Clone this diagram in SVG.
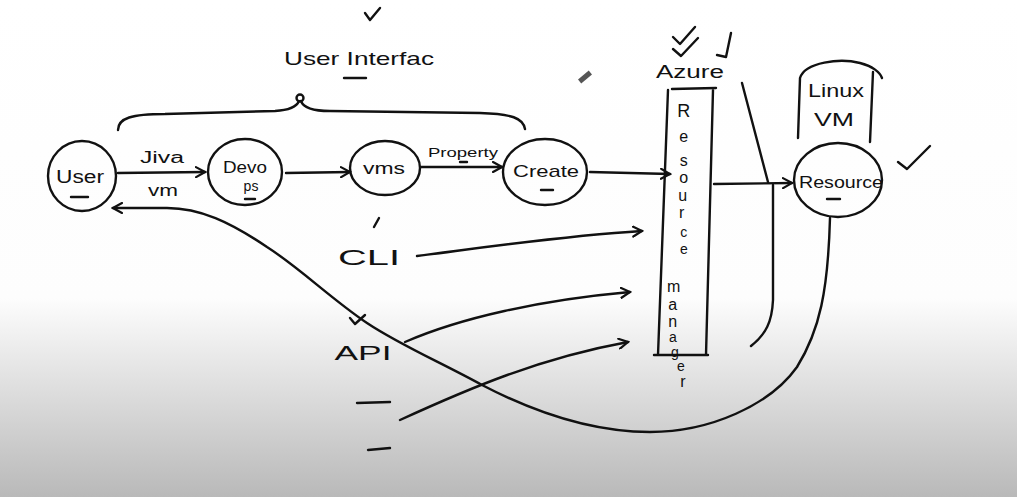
<svg xmlns="http://www.w3.org/2000/svg" width="1017" height="497" viewBox="0 0 1017 497">
<defs>
<linearGradient id="bg" x1="0" y1="0" x2="0" y2="497" gradientUnits="userSpaceOnUse">
<stop offset="0" stop-color="#ffffff"/>
<stop offset="0.6" stop-color="#fdfdfd"/>
<stop offset="1" stop-color="#b9b9b9"/>
</linearGradient>
<marker id="arr" viewBox="0 0 12 12" refX="10" refY="6" markerWidth="12" markerHeight="12" markerUnits="userSpaceOnUse" orient="auto">
<path d="M1,1 L10,6 L1,11" fill="none" stroke="#111" stroke-width="2.2" stroke-linecap="round"/>
</marker>
<style>
.s{fill:none;stroke:#111;stroke-width:2.4;stroke-linecap:round;stroke-linejoin:round}
.t{font-family:"Liberation Sans","DejaVu Sans",sans-serif;fill:#111;text-anchor:middle}
</style>
</defs>
<rect x="0" y="0" width="1017" height="497" fill="url(#bg)"/>

<g id="ui-label">
<path class="s" d="M365,13 L370,20 L380,8"/>
<text class="t" x="359" y="65" font-size="19" textLength="150" lengthAdjust="spacingAndGlyphs">User Interfac</text>
<line class="s" x1="344" y1="78" x2="366" y2="78"/>
<path class="s" d="M118,130 C118,118 132,114 165,114 L275,111 C292,110 297,106 299,101 M301,101 C303,107 310,111 330,111 L480,113 C512,114 523,118 525,129"/>
<circle class="s" cx="300" cy="98" r="3.5"/>
</g>

<g id="cursor">
<rect x="-7" y="-2.5" width="14" height="5" fill="#555" transform="translate(585,77) rotate(-40)"/>
</g>

<g id="user">
<ellipse class="s" cx="82" cy="176" rx="34" ry="35"/>
<text class="t" x="80" y="183" font-size="18" textLength="48" lengthAdjust="spacingAndGlyphs">User</text>
<line class="s" x1="71" y1="197" x2="88" y2="197"/>
</g>

<g id="devops">
<ellipse class="s" cx="245" cy="172" rx="37" ry="33"/>
<text class="t" x="245" y="173" font-size="16" textLength="44" lengthAdjust="spacingAndGlyphs">Devo</text>
<text class="t" x="251" y="191" font-size="14">ps</text>
<line class="s" x1="245" y1="199" x2="255" y2="199"/>
</g>

<g id="vms">
<ellipse class="s" cx="385" cy="168" rx="35" ry="27"/>
<text class="t" x="384" y="174" font-size="17" textLength="42" lengthAdjust="spacingAndGlyphs">vms</text>
</g>

<g id="create">
<ellipse class="s" cx="545" cy="172" rx="42" ry="33"/>
<text class="t" x="546" y="177" font-size="17" textLength="66" lengthAdjust="spacingAndGlyphs">Create</text>
<line class="s" x1="541" y1="190" x2="553" y2="190"/>
</g>

<g id="azure">
<path class="s" d="M673,37 L680,44 L695,27 M673,49 L681,56 L698,38 M717,55 L726,57 L731,33"/>
<text class="t" x="690" y="78" font-size="18" textLength="68" lengthAdjust="spacingAndGlyphs">Azure</text>
</g>

<g id="resource-manager">
<path class="s" d="M672,89 L716,88 M668,90 L658,355 M713,90 L706,355 M654,355 L708,355"/>
<text class="t" font-size="16">
<tspan x="686" y="117" font-size="18">R</tspan>
<tspan x="686" y="142">e</tspan>
<tspan x="686" y="166">s</tspan>
<tspan x="686" y="183">o</tspan>
<tspan x="685" y="201">u</tspan>
<tspan x="684" y="218">r</tspan>
<tspan x="686" y="237" font-size="14">c</tspan>
<tspan x="686" y="254" font-size="14">e</tspan>
<tspan x="676" y="292">m</tspan>
<tspan x="675" y="310">a</tspan>
<tspan x="675" y="327">n</tspan>
<tspan x="675" y="342" font-size="14">a</tspan>
<tspan x="677" y="357" font-size="14">g</tspan>
<tspan x="683" y="371" font-size="14">e</tspan>
<tspan x="683" y="387">r</tspan>
</text>
</g>

<g id="linux-vm">
<path class="s" d="M798,138 L800,78 C805,62 840,58 860,63 C872,66 880,72 882,78 M873,72 L870,142"/>
<text class="t" x="836" y="97" font-size="19" textLength="56" lengthAdjust="spacingAndGlyphs">Linux</text>
<text class="t" x="834" y="126" font-size="19" textLength="40" lengthAdjust="spacingAndGlyphs">VM</text>
</g>

<g id="resource">
<ellipse class="s" cx="838" cy="180" rx="44" ry="37"/>
<text class="t" x="841" y="188" font-size="16" textLength="84" lengthAdjust="spacingAndGlyphs">Resource</text>
<line class="s" x1="827" y1="199" x2="840" y2="199"/>
<path class="s" d="M898,162 L907,169 L930,146"/>
</g>

<g id="cli">
<line class="s" x1="374" y1="227" x2="379" y2="218"/>
<text class="t" x="369" y="265" font-size="22" textLength="62" lengthAdjust="spacingAndGlyphs">CLI</text>
</g>

<g id="api">
<path class="s" d="M350,318 L355,324 L365,315"/>
<text class="t" x="363" y="360" font-size="21" textLength="57" lengthAdjust="spacingAndGlyphs">API</text>
</g>

<g id="dashes">
<line class="s" x1="357" y1="403" x2="390" y2="402"/>
<line class="s" x1="368" y1="450" x2="390" y2="448"/>
</g>

<g id="connectors">
<path class="s" d="M118,173 L205,172" marker-end="url(#arr)"/>
<text class="t" x="162" y="163" font-size="16" textLength="44" lengthAdjust="spacingAndGlyphs">Jiva</text>
<text class="t" x="163" y="196" font-size="16" textLength="30" lengthAdjust="spacingAndGlyphs">vm</text>
<path class="s" d="M286,173 L350,172" marker-end="url(#arr)"/>
<path class="s" d="M421,167 L502,167" marker-end="url(#arr)"/>
<text class="t" x="463" y="157" font-size="13" textLength="70" lengthAdjust="spacingAndGlyphs">Property</text>
<line class="s" x1="460" y1="162" x2="467" y2="162"/>
<path class="s" d="M590,172 L670,174" marker-end="url(#arr)"/>
<path class="s" d="M714,184 L792,183" marker-end="url(#arr)"/>
<path class="s" d="M742,83 L768,182"/>
<path class="s" d="M773,185 L773,300 C772,322 766,334 751,346"/>
<path class="s" d="M417,256 C480,248 560,236 642,231" marker-end="url(#arr)"/>
<path class="s" d="M405,342 C460,318 540,300 630,292" marker-end="url(#arr)"/>
<path class="s" d="M400,420 C470,388 540,358 628,342" marker-end="url(#arr)"/>
<path class="s" d="M830,218 C828,290 820,330 797,367 C770,405 710,432 650,432 C590,432 530,410 482,385 C440,362 400,345 367,323 C330,298 300,268 267,247 C230,222 200,208 167,208 L113,208" marker-end="url(#arr)"/>
</g>
</svg>
